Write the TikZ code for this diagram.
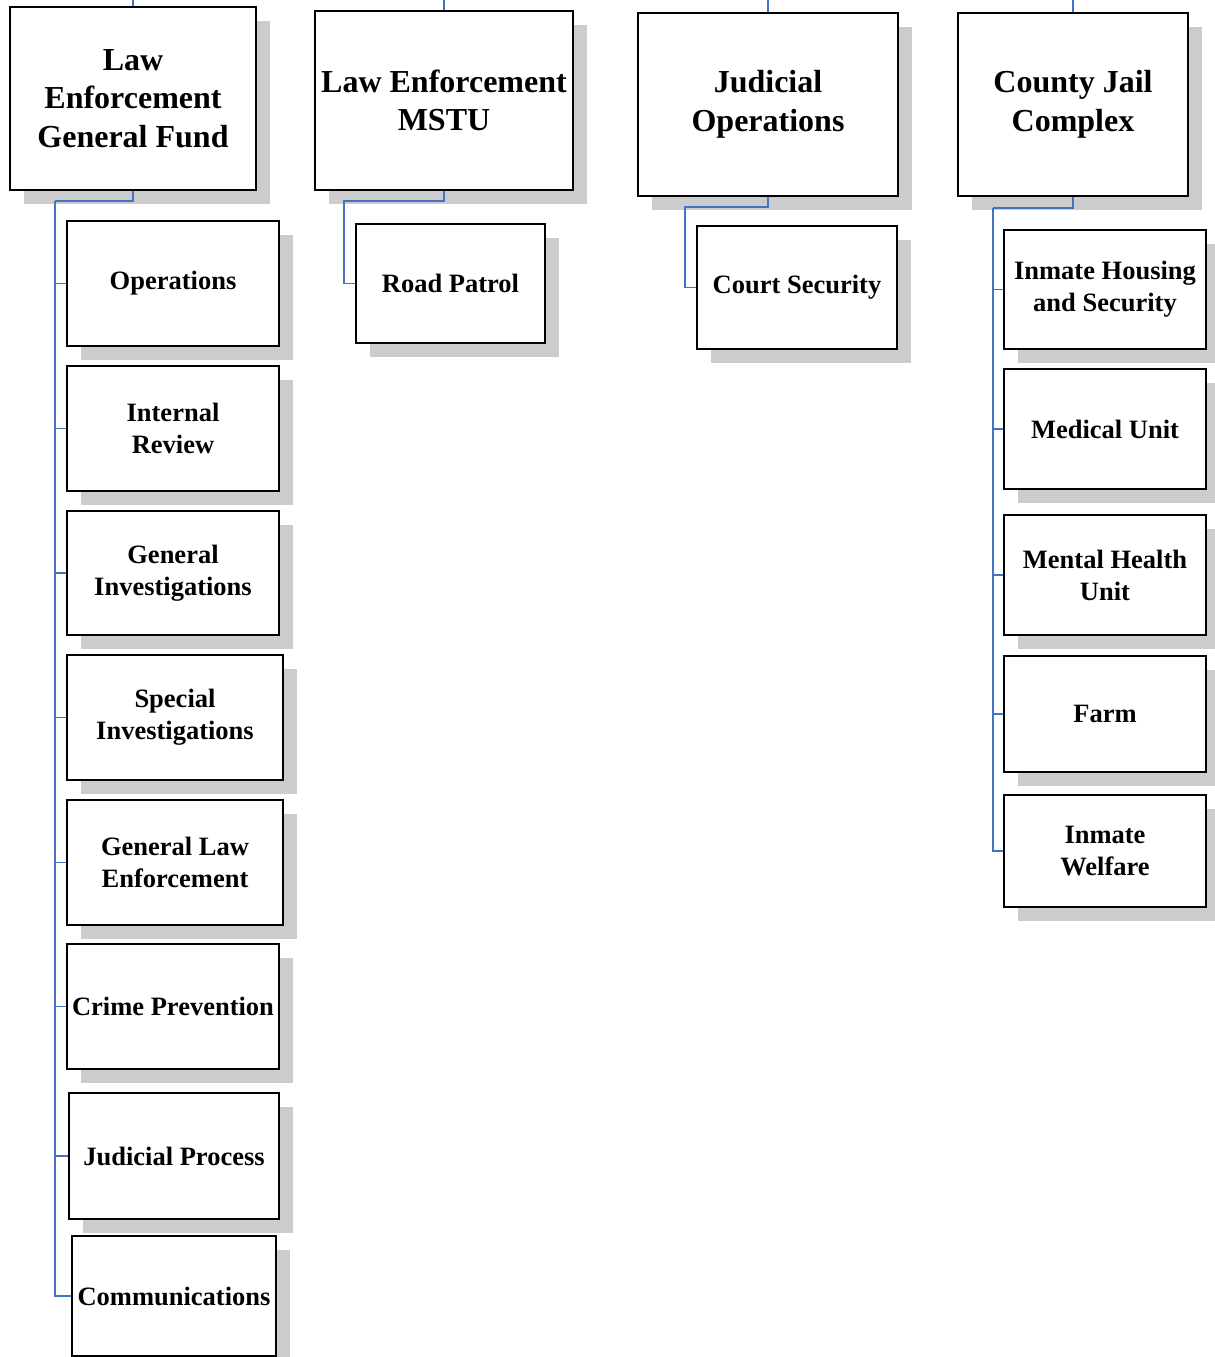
\documentclass[tikz,border=0pt]{standalone}
\usepackage{fontspec}
\setmainfont{Liberation Serif}
\usetikzlibrary{shadows}
\definecolor{linkblue}{RGB}{68,114,196}

\begin{document}
\begin{tikzpicture}[x=1pt, y=-1pt,
    box/.style={draw, line width=1.6pt, fill=white, inner sep=0pt, align=center,
        drop shadow={shadow xshift=14pt, shadow yshift=-14pt, fill=black!20, opacity=1}},
    headbox/.style={box, font=\bfseries\fontsize{32}{38.5}\selectfont},
    unitbox/.style={box, font=\bfseries\fontsize{26.5}{32}\selectfont},
    link/.style={draw=linkblue, line width=1.8pt}]
    \useasboundingbox (0,0) rectangle (1215,1357);

    % Heads
    \node[headbox, minimum width=246pt, minimum height=183pt] (legf) at (133,98.5) {Law\\Enforcement\\General Fund};
    \node[headbox, minimum width=258pt, minimum height=179pt] (mstu) at (444,100.5) {Law Enforcement\\MSTU};
    \node[headbox, minimum width=260pt, minimum height=183pt] (judops) at (768,104.5) {Judicial\\Operations};
    \node[headbox, minimum width=230pt, minimum height=183pt] (jail) at (1073,104.5) {County Jail\\Complex};

    % General fund units
    \node[unitbox, minimum width=212pt, minimum height=125pt] (ops) at (173,283.5) {Operations};
    \node[unitbox, minimum width=212pt, minimum height=125pt] (intrev) at (173,428.5) {Internal\\Review};
    \node[unitbox, minimum width=212pt, minimum height=124pt] (geninv) at (173,573) {General\\Investigations};
    \node[unitbox, minimum width=216pt, minimum height=125pt] (specinv) at (175,717.5) {Special\\Investigations};
    \node[unitbox, minimum width=216pt, minimum height=125pt] (genle) at (175,862.5) {General Law\\Enforcement};
    \node[unitbox, minimum width=212pt, minimum height=125pt] (crime) at (173,1006.5) {Crime Prevention};
    \node[unitbox, minimum width=210pt, minimum height=126pt] (judproc) at (174,1156) {Judicial Process};
    \node[unitbox, minimum width=204pt, minimum height=120pt] (comm) at (174,1296) {Communications};

    % MSTU and judicial units
    \node[unitbox, minimum width=189pt, minimum height=119pt] (patrol) at (450.5,283.5) {Road Patrol};
    \node[unitbox, minimum width=200pt, minimum height=123pt] (court) at (797,287.5) {Court Security};

    % Jail units
    \node[unitbox, minimum width=202pt, minimum height=119pt] (housing) at (1105,289.5) {Inmate Housing\\and Security};
    \node[unitbox, minimum width=202pt, minimum height=120pt] (medical) at (1105,429) {Medical Unit};
    \node[unitbox, minimum width=202pt, minimum height=120pt] (mental) at (1105,575) {Mental Health\\Unit};
    \node[unitbox, minimum width=202pt, minimum height=116pt] (farm) at (1105,714) {Farm};
    \node[unitbox, minimum width=202pt, minimum height=112pt] (welfare) at (1105,851) {Inmate\\Welfare};

    % Lines from above
    \coordinate (legftop) at (133,0);
    \coordinate (mstutop) at (444,0);
    \coordinate (judopstop) at (768,0);
    \coordinate (jailtop) at (1073,0);
    \draw[link] (legftop) -- (legf.north);
    \draw[link] (mstutop) -- (mstu.north);
    \draw[link] (judopstop) -- (judops.north);
    \draw[link] (jailtop) -- (jail.north);

    % Connectors
    \coordinate (legfbus) at (55,201);
    \coordinate (mstubus) at (344,201);
    \coordinate (judopsbus) at (685,207);
    \coordinate (jailbus) at (993,208);
    \draw[link] (legf.south) |- (legfbus);
    \foreach \u in {ops,intrev,geninv,specinv,genle,crime,judproc,comm}
        \draw[link] (legfbus) |- (\u.west);
    \draw[link] (mstu.south) |- (mstubus) |- (patrol.west);
    \draw[link] (judops.south) |- (judopsbus) |- (court.west);
    \draw[link] (jail.south) |- (jailbus);
    \foreach \u in {housing,medical,mental,farm,welfare}
        \draw[link] (jailbus) |- (\u.west);

\end{tikzpicture}
\end{document}
